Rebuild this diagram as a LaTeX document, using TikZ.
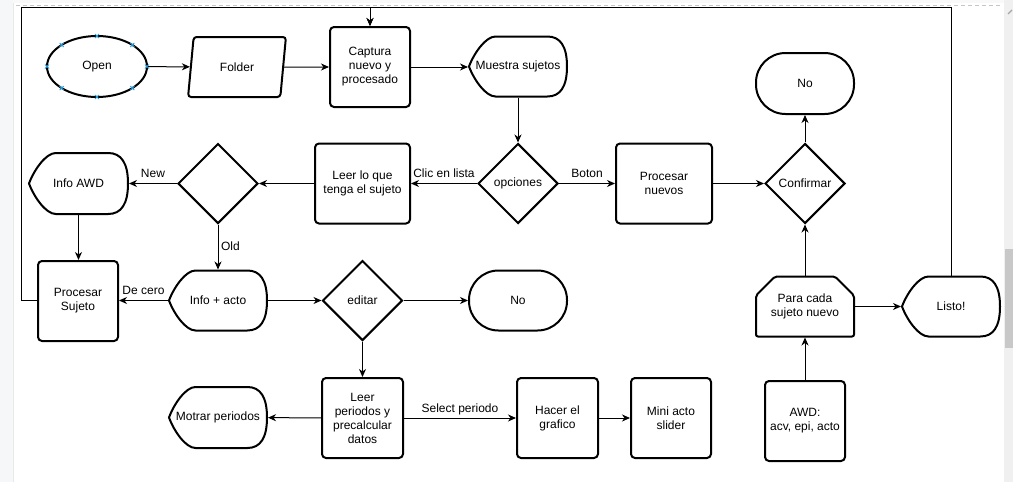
\documentclass[tikz,border=0pt]{standalone}
\usepackage{fontspec}
\setmainfont{Liberation Sans}
\usetikzlibrary{arrows.meta,shapes.geometric,calc}

\definecolor{handle}{HTML}{29A3E0}
\definecolor{sidebar}{HTML}{F6F7F9}
\definecolor{scrolltrack}{HTML}{F0F0F0}
\definecolor{scrollthumb}{HTML}{C8C8C8}

% display shape: pointed left end, flat top and bottom, rounded right end
\newcommand\dispnode[6]{%
  \draw[shapeline]
    ({#2-#4/2},#3)
    .. controls ({#2-0.45*#4},{#3-0.22*#5}) and ({#2-0.33*#4},{#3-#5/2}) .. ({#2-0.23*#4},{#3-#5/2})
    -- ({#2+0.3*#4},{#3-#5/2})
    .. controls ({#2+0.4333*#4},{#3-#5/2}) and ({#2+#4/2},{#3-#5/3}) .. ({#2+#4/2},#3)
    .. controls ({#2+#4/2},{#3+#5/3}) and ({#2+0.4333*#4},{#3+#5/2}) .. ({#2+0.3*#4},{#3+#5/2})
    -- ({#2-0.23*#4},{#3+#5/2})
    .. controls ({#2-0.33*#4},{#3+#5/2}) and ({#2-0.45*#4},{#3+0.22*#5}) .. cycle;
  \node[disp, minimum width=#4pt, minimum height=#5pt] (#1) at (#2,#3) {#6};
}

\begin{document}
\begin{tikzpicture}[x=1pt,y=-1pt,
  font=\fontsize{12}{14}\selectfont,
  shapeline/.style={draw=black,line width=2pt},
  box/.style={shapeline,rectangle,rounded corners=4pt,align=center,inner sep=0pt,
    minimum width=80pt,minimum height=80pt},
  disp/.style={rectangle,draw=none,align=center,inner sep=0pt,outer sep=1pt},
  decision/.style={shapeline,diamond,aspect=1,inner sep=0pt,
    minimum width=80pt,minimum height=80pt},
  terminal/.style={shapeline,rectangle,rounded corners=29.5pt,inner sep=0pt,
    minimum width=98pt,minimum height=60pt},
  conn/.style={draw=black,line width=1pt,
    -{Stealth[length=8pt,width=7pt,inset=2.5pt]}},
  lbl/.style={inner sep=3pt,outer sep=0pt,text height=9pt,text depth=3pt},
  handlemark/.style={draw=handle,line width=0.9pt}
]
\useasboundingbox (0,0) rectangle (1013,482);

% editor background, side bar, page border and scroll bar
\fill[white] (0,0) rectangle (1013,482);
\fill[sidebar] (0,0) rectangle (13,482);
\draw[gray!18,line width=0.8pt] (13,0) -- (13,482);
\fill[gray!5] (13,0) rectangle (1004,3);
\draw[gray!45,line width=1pt,dash pattern=on 4pt off 3pt] (16,5) -- (1000,5);
\fill[scrolltrack] (1004,0) rectangle (1013,482);
\fill[scrollthumb] (1005,249) rectangle (1013,348);
\draw[gray!70,line width=1.2pt] (1008,14) -- (1012,10);

% corner points of the outer feedback loop
\coordinate (loopTL) at (21,7.5);
\coordinate (loopTR) at (951,7.5);

% first row
\node[shapeline,ellipse,inner sep=0pt,minimum width=100pt,minimum height=61pt] (open) at (97,66.5) {Open};
\foreach \a in {0,45,...,315}{
  \draw[handlemark] ({97+50*cos(\a)-2},{66.5+30.5*sin(\a)-2}) -- ++(4,4)
              ({97+50*cos(\a)-2},{66.5+30.5*sin(\a)+2}) -- ++(4,-4);
}
\node[shapeline,trapezium,trapezium left angle=76,trapezium right angle=104,
  trapezium stretches=true,inner sep=0pt,minimum width=98pt,minimum height=60pt,
  rounded corners=3pt] (folder) at (237,67) {Folder};
\node[box] (captura) at (370,67) {Captura\\nuevo y\\procesado};
\dispnode{muestra}{518}{66.5}{98}{60}{Muestra sujetos}
\node[terminal,minimum height=61pt] (noTop) at (805,83.5) {No};

% second row
\dispnode{infoAWD}{78.5}{183.5}{99}{61}{Info AWD}
\node[decision] (tipo) at (218,183.5) {};
\node[box,minimum width=95pt] (leerSujeto) at (362.5,183.5) {Leer lo que\\tenga el sujeto};
\node[decision] (opciones) at (518,183.5) {opciones};
\node[box,minimum width=96pt] (procNuevos) at (664,183.5) {Procesar\\nuevos};
\node[decision] (confirmar) at (805,183.5) {Confirmar};

% third row
\node[box] (procSujeto) at (78,301) {Procesar\\Sujeto};
\dispnode{infoActo}{218}{300.5}{98}{60}{Info + acto}
\node[decision] (editar) at (362.5,300.5) {editar};
\node[terminal] (noMid) at (518,300.5) {No};
\draw[shapeline,rounded corners=2pt]
  (756,295.5) -- (775,276.5) -- (835,276.5) -- (854,295.5) -- (854,336.5) -- (756,336.5) -- cycle;
\node[disp,minimum width=98pt,minimum height=60pt] (paraCada) at (805,306.5) {Para cada\\sujeto nuevo};
\dispnode{listo}{951}{306.5}{98}{60}{Listo!}

% fourth row
\dispnode{motrar}{218}{417.5}{98}{61}{Motrar periodos}
\node[box,minimum width=81pt] (leerPeriodos) at (362.5,418) {Leer\\periodos y\\precalcular\\datos};
\node[box,minimum width=81pt] (hacer) at (557.5,418) {Hacer el\\grafico};
\node[box] (mini) at (671,418) {Mini acto\\slider};
\node[box] (awd) at (805,421) {AWD:\\acv, epi, acto};

% connectors
\draw[conn] (open) -- (folder);
\draw[conn] (folder) -- (captura);
\draw[conn] (captura) -- (captura -| muestra.west);
\draw[conn] (muestra) -- (opciones);
\draw[conn] (opciones) -- node[lbl,above]{Clic en lista} (leerSujeto);
\draw[conn] (opciones) -- node[lbl,above]{Boton} (procNuevos);
\draw[conn] (procNuevos) -- (confirmar);
\draw[conn] (confirmar) -- (noTop);
\draw[conn] (leerSujeto) -- (tipo);
\draw[conn] (tipo) -- node[lbl,above]{New} (infoAWD);
\draw[conn] (tipo) -- node[lbl,right]{Old} (infoActo);
\draw[conn] (infoAWD) -- (infoAWD |- procSujeto.north);
\draw[conn] (infoActo) -- node[lbl,above]{De cero} (infoActo -| procSujeto.east);
\draw[conn] (infoActo) -- (editar);
\draw[conn] (editar) -- (noMid);
\draw[conn] (editar) -- (leerPeriodos);
\draw[conn] (leerPeriodos) -- (motrar);
\draw[conn] (leerPeriodos) -- node[lbl,above]{Select periodo} (hacer);
\draw[conn] (hacer) -- (mini);
\draw[conn] (awd) -- (paraCada);
\draw[conn] (paraCada) -- (confirmar);
\draw[conn] (paraCada) -- (listo);
\draw[conn] (procSujeto.west |- infoActo) -| (loopTL) -| (captura.north);
\draw[conn] (listo.north) -- (loopTR) -| (captura.north);
\end{tikzpicture}
\end{document}
